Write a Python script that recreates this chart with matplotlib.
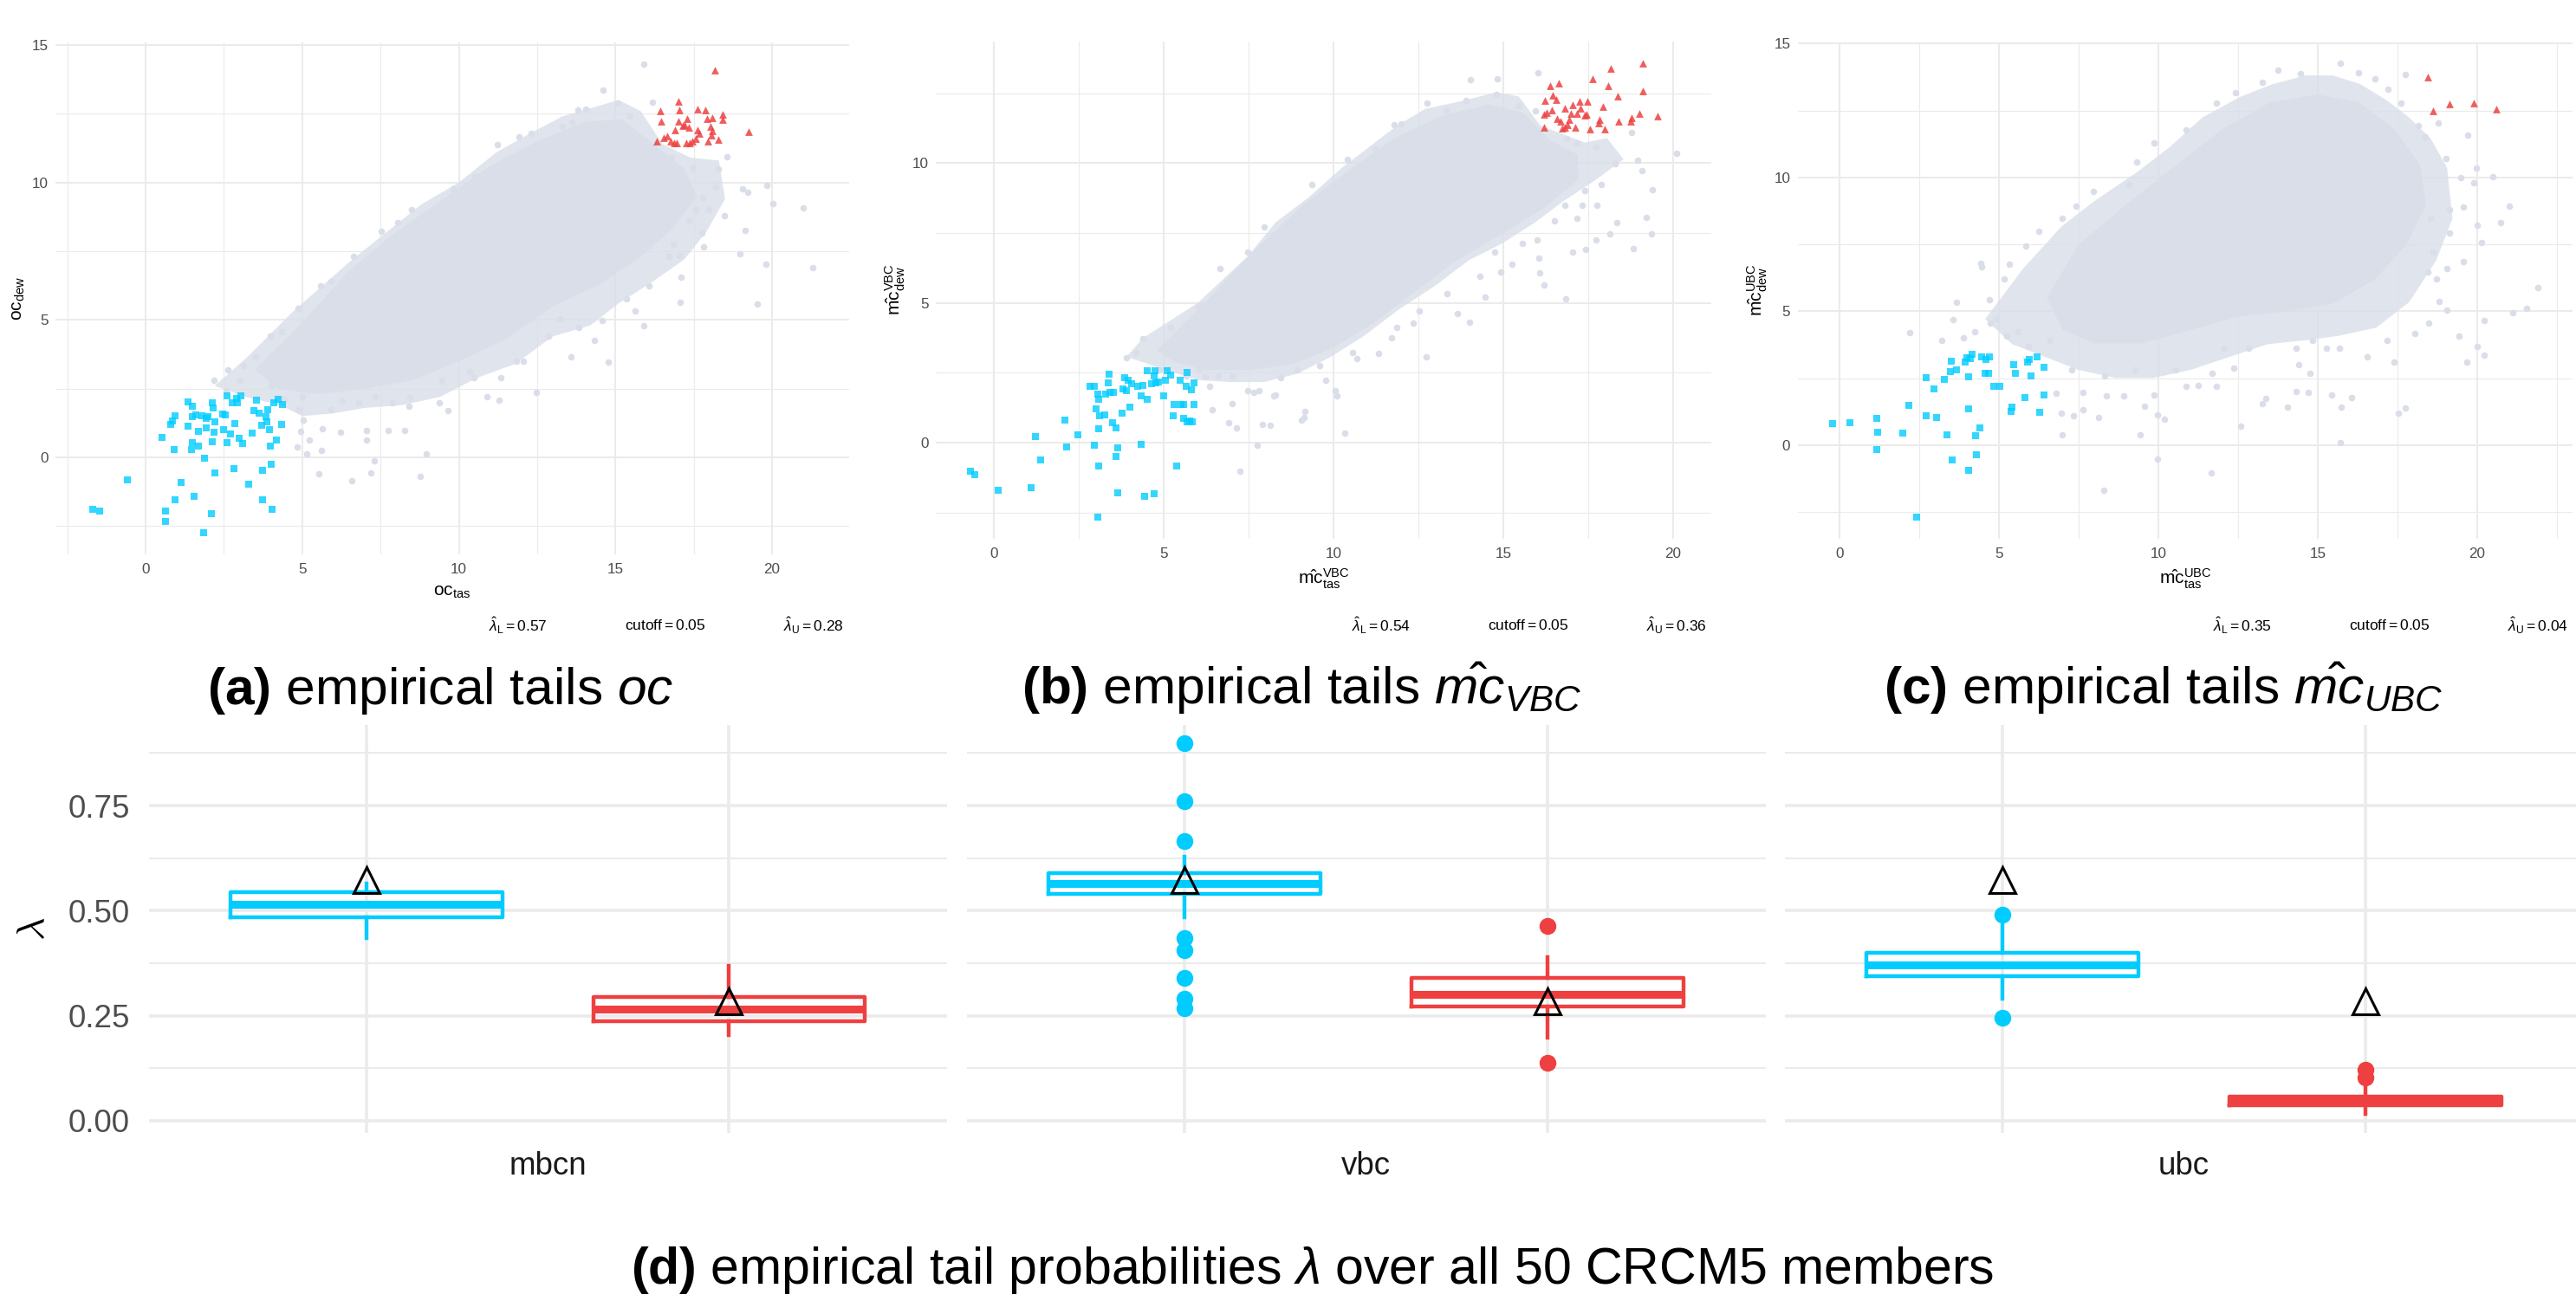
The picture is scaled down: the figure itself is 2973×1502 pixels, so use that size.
import numpy as np
import matplotlib
matplotlib.use("Agg")
import matplotlib.pyplot as plt
from matplotlib.ticker import MultipleLocator

plt.rcParams['font.family'] = ['Liberation Sans', 'DejaVu Sans']
plt.rcParams['mathtext.fontset'] = 'custom'
plt.rcParams['mathtext.rm'] = 'Liberation Sans'
plt.rcParams['mathtext.it'] = 'Liberation Sans:italic'
plt.rcParams['mathtext.bf'] = 'Liberation Sans:bold'

# ---------------- data ----------------
# (a) observed oc
a_lower = [(-1.69, -1.88), (-1.48, -1.97), (-0.58, -0.81), (0.53, 0.73), (0.62, -1.97), (0.64, -2.32),
           (0.79, 1.21), (0.86, 1.33), (0.90, 0.29), (0.95, 1.51), (0.95, -1.53), (1.13, -0.90),
           (1.36, 2.02), (1.36, 1.12), (1.45, 0.29), (1.50, 1.85), (1.50, 1.47), (1.50, 0.52),
           (1.55, -1.41), (1.61, 1.53), (1.68, 0.95), (1.69, 0.41), (1.80, 1.50), (1.84, -2.73),
           (1.89, -0.03), (1.92, 1.08), (1.94, 1.42), (1.99, 1.47), (2.10, -2.06), (2.12, 2.00),
           (2.14, 0.58), (2.15, 1.79), (2.17, 0.90), (2.21, -0.57), (2.22, 1.28), (2.47, 1.59),
           (2.49, 1.02), (2.54, 1.53), (2.59, 2.25), (2.61, 0.52), (2.72, 0.86), (2.75, 2.00),
           (2.81, -0.40), (2.84, 1.24), (2.89, 2.15), (2.93, 1.97), (2.98, 0.70), (3.05, 2.25),
           (3.09, 0.50), (3.30, -0.98), (3.39, 0.89), (3.46, 1.71), (3.53, 2.08), (3.62, 1.60),
           (3.71, 1.18), (3.72, -0.47), (3.74, -1.53), (3.83, 1.47), (3.87, 1.28), (3.90, 1.74),
           (3.94, 1.02), (3.99, 0.41), (4.02, -0.24), (4.04, -1.89), (4.08, 2.00), (4.17, 0.64),
           (4.22, 2.12), (4.34, 1.21), (4.36, 1.92)]
a_upper = [(16.33, 11.49), (16.43, 12.62), (16.45, 12.23), (16.54, 11.62), (16.66, 11.68), (16.75, 11.50),
           (16.86, 11.44), (16.91, 11.90), (16.96, 11.44), (17.00, 12.95), (17.02, 12.23), (17.05, 12.63),
           (17.16, 12.08), (17.21, 12.11), (17.25, 11.44), (17.28, 12.31), (17.33, 12.02), (17.37, 11.44),
           (17.46, 11.50), (17.56, 11.59), (17.62, 12.66), (17.62, 11.90), (17.67, 11.78), (17.86, 12.63),
           (17.92, 12.31), (17.95, 11.50), (18.02, 12.05), (18.06, 11.72), (18.08, 12.36), (18.09, 11.88),
           (18.18, 14.10), (18.29, 11.56), (18.41, 12.48), (18.43, 12.28), (19.26, 11.84)]
a_cloud_outer = [(2.2, 2.6), (3.2, 3.6), (4.7, 5.3), (6.6, 7.2), (7.7, 8.2), (8.8, 9.2), (10.0, 10.0),
                 (11.2, 11.1), (12.3, 11.8), (13.3, 12.4), (14.2, 12.7), (15.1, 13.0), (15.8, 12.6),
                 (16.5, 11.4), (17.4, 10.9), (18.3, 10.8), (18.5, 9.4), (17.9, 8.2), (17.2, 7.2),
                 (16.2, 6.4), (15.1, 5.6), (14.2, 4.8), (13.0, 4.4), (11.8, 3.4), (10.6, 2.9),
                 (9.4, 2.2), (8.2, 1.9), (7.0, 1.8), (6.0, 1.6), (5.0, 1.5), (4.3, 1.9), (3.2, 2.2)]
a_cloud_core = [(3.5, 3.2), (5.0, 4.9), (6.5, 6.8), (8.0, 8.2), (9.5, 9.4), (11.0, 10.6), (12.5, 11.5),
                (14.0, 12.2), (15.2, 12.3), (16.2, 11.4), (17.2, 10.5), (17.6, 9.5), (16.8, 8.3),
                (15.8, 7.3), (14.5, 6.3), (13.0, 5.5), (11.5, 4.3), (10.0, 3.5), (8.5, 2.8), (7.0, 2.5),
                (5.5, 2.3), (4.2, 2.5)]
a_cloud_pts = [(15.9, 14.3), (14.6, 13.35), (15.06, 12.9), (16.17, 12.92), (16.27, 10.98), (16.79, 10.9),
               (17.49, 10.52), (18.29, 10.49), (18.57, 10.95), (18.2, 9.84), (19.05, 9.76), (19.23, 9.64),
               (19.83, 9.91), (20.03, 9.22), (21.0, 9.07), (19.13, 8.26), (18.97, 7.39), (19.8, 7.04),
               (21.29, 6.89), (19.52, 5.59), (17.81, 7.65), (17.76, 8.16), (17.05, 7.35), (17.07, 5.64),
               (16.85, 7.76), (15.9, 4.8), (15.64, 5.33), (15.34, 5.77), (14.78, 3.47), (14.58, 4.99),
               (14.32, 4.26), (13.57, 3.65), (12.85, 4.41), (12.46, 2.35), (12.07, 3.5), (11.28, 2.08),
               (10.91, 2.2), (10.49, 2.89), (9.64, 1.7), (8.97, 0.14), (8.76, -0.7), (8.28, 0.98),
               (7.75, 0.98), (7.29, -0.14), (7.18, -0.58), (7.04, 0.98), (7.06, 0.63), (6.58, -0.86),
               (5.53, -0.6), (5.61, 0.24), (5.63, 1.05), (5.15, 0.14), (4.85, 0.37), (4.96, 0.96),
               (4.87, 1.74), (5.03, 1.36), (5.22, 0.63), (5.01, 2.2), (4.43, 2.12), (4.57, 2.61),
               (4.34, 2.58), (4.02, 2.63), (3.64, 3.19), (3.11, 3.35), (2.63, 3.19), (2.19, 2.81),
               (2.58, 2.43), (3.02, 2.81), (6.23, 0.9), (5.93, 1.74), (6.28, 2.05), (6.81, 1.97),
               (7.34, 2.2), (7.87, 1.97), (8.4, 1.85), (8.44, 2.17), (9.37, 2.0), (9.46, 2.81),
               (10.34, 3.12), (11.33, 2.89), (11.84, 3.5), (13.22, 5.03), (13.82, 4.72), (16.7, 7.32),
               (17.33, 8.61), (17.55, 9.0), (17.79, 9.45), (17.99, 9.0), (18.48, 8.8), (17.09, 6.55),
               (16.08, 6.25), (16.35, 9.23), (11.23, 11.36), (11.93, 11.67), (12.32, 11.78), (13.31, 12.05),
               (14.05, 12.66), (13.61, 12.2), (15.46, 12.43), (13.79, 12.63), (10.52, 10.22), (9.81, 9.76),
               (8.49, 9.0), (8.05, 8.54), (7.52, 8.23), (6.64, 7.32), (5.93, 6.4), (5.58, 6.25),
               (4.87, 5.41), (4.34, 4.57), (3.99, 4.41), (3.5, 3.65)]

# (b) VBC
b_lower = [(-0.70, -1.01), (-0.57, -1.14), (0.11, -1.70), (1.09, -1.61), (1.21, 0.21), (1.37, -0.62),
           (2.08, 0.81), (2.13, -0.15), (2.46, 0.29), (2.83, 2.03), (2.95, 2.03), (2.95, -0.08),
           (3.0, 1.22), (3.06, 1.74), (3.08, -0.83), (3.08, 0.51), (3.08, 1.56), (3.11, 0.96),
           (3.06, -2.66), (3.27, 0.99), (3.29, 1.74), (3.35, 2.14), (3.39, 2.45), (3.4, 1.79),
           (3.5, 0.72), (3.52, 1.80), (3.6, 0.54), (3.6, -0.48), (3.65, -0.18), (3.65, -1.79),
           (3.78, 1.07), (3.79, 1.92), (3.84, 2.32), (3.89, 1.86), (3.94, 2.24), (4.0, 1.28),
           (4.05, 2.11), (4.22, 2.02), (4.33, 1.67), (4.33, -0.06), (4.38, 2.05), (4.43, -1.91),
           (4.5, 2.57), (4.51, 1.56), (4.64, 2.12), (4.71, -1.83), (4.72, 2.39), (4.74, 2.57),
           (4.77, 2.14), (4.84, 2.17), (5.0, 1.67), (5.05, 2.24), (5.1, 2.57), (5.21, 2.42),
           (5.28, 0.96), (5.31, 1.38), (5.37, -0.83), (5.49, 2.24), (5.5, 1.38), (5.57, 1.37),
           (5.59, 0.86), (5.65, 2.02), (5.68, 2.51), (5.68, 0.74), (5.75, 0.77), (5.81, 1.89),
           (5.85, 0.75), (5.88, 1.37), (5.9, 2.14)]
b_upper = [(16.21, 11.29), (16.21, 11.74), (16.24, 12.24), (16.27, 11.82), (16.38, 12.77), (16.43, 11.89),
           (16.47, 12.42), (16.55, 12.27), (16.6, 11.59), (16.63, 12.87), (16.7, 11.49), (16.73, 11.26),
           (16.81, 11.29), (16.82, 11.97), (16.89, 11.37), (16.94, 11.56), (16.99, 11.79), (17.05, 12.09),
           (17.13, 11.29), (17.18, 11.79), (17.24, 12.2), (17.28, 11.97), (17.41, 11.71), (17.46, 11.74),
           (17.49, 12.2), (17.57, 11.22), (17.64, 13.02), (17.82, 11.44), (17.85, 11.56), (17.93, 12.02),
           (17.98, 11.22), (18.1, 12.77), (18.18, 13.4), (18.37, 12.39), (18.39, 11.49), (18.76, 11.49),
           (18.79, 11.64), (19.02, 11.79), (19.12, 12.6), (19.12, 13.59), (19.54, 11.7)]
b_cloud_outer = [(3.9, 3.07), (4.38, 3.74), (6.0, 5.0), (7.48, 6.68), (8.29, 7.88), (9.27, 8.78),
                 (10.24, 9.83), (11.22, 10.74), (11.87, 11.34), (12.69, 11.94), (13.83, 12.24),
                 (14.8, 12.54), (15.46, 12.39), (16.1, 11.34), (16.76, 11.04), (17.4, 10.74),
                 (18.06, 10.9), (18.55, 10.14), (17.7, 9.38), (16.76, 8.63), (15.94, 7.88), (14.97, 7.13),
                 (13.99, 6.53), (13.0, 5.62), (11.87, 4.72), (10.9, 3.82), (9.92, 3.07), (8.94, 2.47),
                 (7.96, 2.17), (6.99, 2.17), (6.0, 2.24), (5.03, 2.62)]
b_cloud_core = [(4.8, 3.3), (6.2, 5.0), (7.6, 6.8), (9.0, 8.4), (10.4, 9.7), (11.8, 10.9), (13.2, 11.7),
                (14.6, 12.1), (15.6, 11.8), (16.4, 10.8), (17.2, 10.3), (17.2, 9.4), (16.2, 8.4),
                (15.0, 7.5), (13.6, 6.5), (12.4, 5.4), (11.2, 4.3), (10.0, 3.4), (8.8, 2.8), (7.5, 2.6),
                (6.2, 2.6), (5.3, 2.9)]
b_cloud_pts = [(14.04, 12.99), (14.82, 13.02), (16.03, 13.23), (12.75, 12.15), (13.31, 11.91), (12.0, 11.41),
               (11.79, 11.37), (15.46, 12.06), (15.94, 11.86), (16.86, 10.89), (17.17, 10.74), (17.74, 10.56),
               (18.79, 11.11), (18.96, 10.11), (20.1, 10.36), (19.09, 9.74), (18.31, 9.98), (19.4, 9.05),
               (17.9, 9.23), (17.41, 9.01), (17.13, 9.61), (16.82, 8.48), (17.33, 8.48), (17.77, 8.48),
               (17.17, 8.03), (16.51, 7.95), (18.34, 7.88), (19.22, 8.06), (19.37, 7.47), (18.15, 7.47),
               (17.74, 7.25), (17.05, 6.83), (17.44, 6.9), (18.84, 6.95), (15.99, 7.25), (15.57, 7.13),
               (16.04, 6.6), (16.08, 6.08), (16.21, 5.65), (16.84, 5.14), (15.26, 6.38), (14.93, 6.11),
               (14.32, 5.95), (14.76, 6.83), (14.48, 5.22), (14.02, 4.32), (13.66, 4.63), (12.74, 3.07),
               (13.34, 5.32), (12.52, 4.72), (12.36, 4.27), (11.87, 4.12), (11.71, 3.74), (11.32, 3.19),
               (10.68, 3.01), (10.33, 0.33), (10.05, 1.86), (10.11, 1.68), (9.76, 2.24), (9.14, 0.89),
               (9.06, 0.81), (9.15, 1.11), (8.29, 1.71), (8.23, 1.67), (7.8, 1.86), (8.13, 0.62),
               (7.9, 0.66), (7.75, -0.09), (7.64, 1.79), (7.15, 0.54), (7.23, -1.02), (6.91, 0.71),
               (7.02, 1.41), (6.42, 1.19), (6.21, 2.36), (6.6, 2.39), (6.01, 2.62), (6.34, 2.02),
               (7.0, 2.39), (7.48, 1.86), (8.45, 2.32), (8.94, 2.62), (9.59, 2.77), (10.57, 3.22),
               (5.65, 2.39), (5.36, 3.07), (4.87, 2.62), (4.38, 3.73), (3.89, 3.04), (4.17, 3.22),
               (5.2, 4.12), (6.01, 4.87), (6.66, 6.23), (7.48, 6.83), (7.96, 7.73), (9.35, 9.23),
               (10.41, 10.14), (11.22, 10.51), (12.77, 11.19), (13.91, 12.24), (14.8, 12.47)]

# (c) UBC
c_lower = [(-0.22, 0.82), (0.31, 0.85), (1.16, 1.0), (1.18, 0.49), (1.16, -0.17), (1.98, 0.46),
           (2.17, 1.49), (2.41, -2.68), (2.71, 2.53), (2.71, 1.1), (2.95, 2.1), (3.04, 1.04),
           (3.28, 2.46), (3.36, 0.39), (3.47, 2.73), (3.5, 3.14), (3.53, -0.55), (3.67, 2.82),
           (3.94, 3.11), (3.99, 3.26), (4.03, 1.37), (4.04, 2.56), (4.04, -0.94), (4.09, 3.22),
           (4.15, 3.4), (4.25, 0.36), (4.28, -0.36), (4.4, 0.64), (4.44, 3.3), (4.56, 2.67),
           (4.59, 3.19), (4.66, 2.68), (4.68, 3.3), (4.83, 2.18), (5.02, 2.18), (5.36, 1.26),
           (5.41, 1.43), (5.46, 3.01), (5.51, 2.67), (5.8, 1.79), (5.89, 3.11), (5.94, 3.19),
           (6.0, 2.57), (6.18, 3.31), (6.26, 1.22), (6.4, 2.9), (6.42, 1.88)]
c_upper = [(18.46, 13.76), (18.63, 12.49), (19.13, 12.73), (19.9, 12.77), (20.61, 12.55)]
c_cloud_outer = [(4.56, 4.71), (5.75, 6.59), (6.95, 8.16), (7.97, 9.1), (9.33, 10.2), (10.36, 11.14),
                 (11.38, 12.24), (12.58, 13.02), (13.6, 13.49), (14.62, 13.81), (15.48, 13.81),
                 (16.33, 13.49), (17.18, 12.87), (17.87, 12.24), (18.55, 11.45), (19.06, 10.36),
                 (19.23, 8.47), (18.72, 6.9), (17.87, 5.34), (16.84, 4.39), (15.65, 4.08), (14.62, 3.92),
                 (13.43, 3.77), (12.24, 3.3), (11.04, 2.82), (9.85, 2.51), (8.65, 2.51), (7.46, 2.82),
                 (6.43, 3.3), (5.41, 3.77)]
c_cloud_core = [(6.5, 5.5), (7.5, 7.5), (9.0, 9.0), (10.5, 10.4), (12.0, 11.8), (13.5, 12.8), (15.0, 13.1),
                (16.3, 12.8), (17.4, 11.8), (18.2, 10.5), (18.4, 9.0), (17.8, 7.5), (16.8, 6.2),
                (15.5, 5.3), (14.0, 5.0), (12.5, 4.8), (11.0, 4.3), (9.5, 3.8), (8.0, 3.8), (7.0, 4.3)]
c_cloud_pts = [(2.2, 4.19), (3.67, 5.32), (3.56, 4.68), (4.44, 6.65), (4.42, 6.78), (4.68, 5.44),
               (5.15, 6.2), (5.32, 6.75), (5.84, 7.45), (6.23, 8.0), (6.99, 8.47), (7.42, 8.94),
               (7.97, 9.49), (9.08, 9.73), (9.33, 10.59), (9.85, 11.3), (10.87, 11.77), (11.81, 12.79),
               (12.41, 13.18), (13.26, 13.57), (13.74, 14.0), (14.45, 13.89), (15.7, 14.28), (16.28, 13.92),
               (16.81, 13.7), (17.75, 13.86), (17.2, 13.31), (17.61, 12.79), (18.16, 11.93), (18.77, 12.05),
               (18.38, 11.53), (19.04, 10.72), (19.71, 11.58), (19.49, 10.01), (19.91, 9.79), (19.98, 10.36),
               (20.49, 10.04), (21.02, 8.94), (20.73, 8.32), (20.0, 8.21), (19.57, 8.91), (19.15, 8.79),
               (18.55, 8.47), (19.15, 7.91), (20.14, 7.56), (18.63, 7.22), (19.57, 6.87), (19.06, 6.59),
               (18.72, 6.2), (18.46, 6.46), (18.81, 5.37), (19.06, 5.05), (21.91, 5.87), (21.55, 5.12),
               (21.13, 4.96), (20.22, 4.66), (19.44, 4.08), (18.48, 4.55), (18.04, 4.16), (17.18, 3.92),
               (17.39, 3.11), (19.67, 3.11), (20.0, 3.69), (20.22, 3.37), (16.55, 3.3), (15.68, 3.61),
               (15.27, 3.61), (14.83, 3.92), (14.32, 3.61), (14.4, 3.01), (14.76, 2.67), (14.32, 2.01),
               (14.06, 1.41), (14.71, 1.96), (15.44, 1.88), (15.73, 1.41), (16.07, 1.76), (15.7, 0.08),
               (17.53, 1.18), (17.75, 1.38), (13.36, 1.73), (13.26, 1.54), (12.58, 0.71), (12.83, 3.61),
               (12.37, 2.86), (12.07, 3.61), (11.81, 2.2), (11.69, 2.67), (11.67, -1.05), (11.26, 2.23),
               (10.87, 2.2), (10.53, 2.82), (10.19, 0.97), (9.98, 1.13), (9.98, -0.52), (9.85, 1.88),
               (9.56, 1.44), (9.42, 0.39), (8.92, 1.84), (8.36, 1.84), (8.28, -1.68), (8.12, 1.02),
               (7.63, 1.33), (7.34, 1.1), (7.63, 1.96), (6.98, 0.39), (6.95, 1.18), (6.79, 1.93),
               (7.29, 2.82), (8.31, 2.59), (9.25, 2.82), (6.6, 3.92), (5.92, 3.69), (5.58, 4.24),
               (5.24, 4.08), (4.9, 4.71), (4.73, 4.55), (4.22, 4.24), (3.87, 4.0), (3.19, 3.92)]

lam_L = [0.57, 0.54, 0.35]
lam_U = [0.28, 0.36, 0.04]
cutoff = 0.05

# (d) box statistics over the 50 members: (q1, median, q3, whisker low, whisker high, outliers)
methods = ["mbcn", "vbc", "ubc"]
box_lower = [(0.484, 0.515, 0.544, 0.435, 0.565, []),
             (0.540, 0.565, 0.589, 0.485, 0.628, [0.899, 0.761, 0.666, 0.434, 0.405, 0.341, 0.291, 0.267]),
             (0.345, 0.370, 0.399, 0.291, 0.466, [0.491, 0.245])]
box_upper = [(0.236, 0.265, 0.295, 0.203, 0.368, []),
             (0.273, 0.301, 0.340, 0.197, 0.390, [0.463, 0.138]),
             (0.038, 0.052, 0.058, 0.016, 0.083, [0.122, 0.102])]
obs_lambda = [0.574, 0.284]

# ---------------- drawing ----------------
W, H = 2973, 1502
fig = plt.figure(figsize=(W / 100, H / 100), dpi=100)

GRAY = '#D9DEE8'
BLUE = '#00CCFF'
RED = '#EE4040'
GRID = '#EBEBEB'


def px_axes(x0, y0, x1, y1):
    return fig.add_axes([x0 / W, 1 - y1 / H, (x1 - x0) / W, (y1 - y0) / H])


def tail_panel(ax, outer, core, pts, low, up, xlim, ylim, xlab, ylab, xpad):
    o = np.array(outer)
    c = np.array(core)
    p = np.array(pts)
    lo = np.array(low)
    hi = np.array(up)
    ax.fill(o[:, 0], o[:, 1], color=GRAY, alpha=0.8, lw=0, zorder=2)
    ax.fill(c[:, 0], c[:, 1], color=GRAY, lw=0, zorder=2)
    ax.scatter(p[:, 0], p[:, 1], s=30, color=GRAY, lw=0, zorder=3)
    ax.scatter(lo[:, 0], lo[:, 1], s=30, marker='s', color=BLUE, alpha=0.8, lw=0, zorder=4)
    ax.scatter(hi[:, 0], hi[:, 1], s=40, marker='^', color=RED, alpha=0.85, lw=0, zorder=4)
    ax.set_xlim(xlim)
    ax.set_ylim(ylim)
    ax.xaxis.set_major_locator(MultipleLocator(5))
    ax.yaxis.set_major_locator(MultipleLocator(5))
    ax.xaxis.set_minor_locator(MultipleLocator(2.5))
    ax.yaxis.set_minor_locator(MultipleLocator(2.5))
    ax.grid(which='major', color=GRID, lw=1.5, zorder=0)
    ax.grid(which='minor', color=GRID, lw=0.8, zorder=0)
    ax.set_axisbelow(True)
    for s in ax.spines.values():
        s.set_visible(False)
    ax.tick_params(which='both', length=0, labelsize=12.3, labelcolor='#4D4D4D')
    ax.tick_params(axis='x', pad=7)
    ax.tick_params(axis='y', pad=6)
    ax.set_xlabel(xlab, fontsize=15, labelpad=xpad)
    ax.set_ylabel(ylab, fontsize=15, labelpad=4)


axA = px_axes(64, 48.5, 980, 640)
tail_panel(axA, a_cloud_outer, a_cloud_core, a_cloud_pts, a_lower, a_upper,
           (-2.88, 22.46), (-3.53, 15.11),
           r'$\mathrm{oc}_{\mathrm{tas}}$', r'$\mathrm{oc}_{\mathrm{dew}}$', 7)
axB = px_axes(1080, 47.5, 1974.5, 622)
tail_panel(axB, b_cloud_outer, b_cloud_core, b_cloud_pts, b_lower, b_upper,
           (-1.72, 21.12), (-3.44, 14.37),
           r'$\hat{\mathrm{mc}}_{\mathrm{tas}}^{\mathrm{VBC}}$', r'$\hat{\mathrm{mc}}_{\mathrm{dew}}^{\mathrm{VBC}}$', 6)
axC = px_axes(2074.6, 48.5, 2969, 622)
tail_panel(axC, c_cloud_outer, c_cloud_core, c_cloud_pts, c_lower, c_upper,
           (-1.33, 23.0), (-3.50, 15.06),
           r'$\hat{\mathrm{mc}}_{\mathrm{tas}}^{\mathrm{UBC}}$', r'$\hat{\mathrm{mc}}_{\mathrm{dew}}^{\mathrm{UBC}}$', 6)

# lambda annotations under each scatter
for off, lL, lU in zip([0, 996, 1990], lam_L, lam_U):
    y = 1 - 722 / H
    fig.text((598 + off) / W, y, r'$\hat{\lambda}_{\mathrm{L}} = %.2f$' % lL, ha='center', va='center', fontsize=12.5)
    fig.text((768 + off) / W, y, r'$\mathrm{cutoff} = %.2f$' % cutoff, ha='center', va='center', fontsize=12.5)
    fig.text((939 + off) / W, y, r'$\hat{\lambda}_{\mathrm{U}} = %.2f$' % lU, ha='center', va='center', fontsize=12.5)

# captions
cap_y = 1 - 813 / H
fig.text(508 / W, cap_y, r'$\mathbf{(a)}$ empirical tails $oc$', ha='center', va='baseline', fontsize=43.5)
fig.text(1502 / W, cap_y, r'$\mathbf{(b)}$ empirical tails $\hat{mc}_{VBC}$', ha='center', va='baseline', fontsize=43.5)
fig.text(2497 / W, cap_y, r'$\mathbf{(c)}$ empirical tails $\hat{mc}_{UBC}$', ha='center', va='baseline', fontsize=43.5)
fig.text(1515 / W, 1 - 1482 / H, r'$\mathbf{(d)}$ empirical tail probabilities $\lambda$ over all 50 CRCM5 members',
         ha='center', va='baseline', fontsize=42.5)

# (d) box plots, one facet per method
facet_x = [(172, 1092.5), (1116, 2037.6), (2060, 2981)]
for i, (x0, x1) in enumerate(facet_x):
    ax = px_axes(x0, 837, x1, 1308)
    for pos, st, col in [(1, box_lower[i], BLUE), (2, box_upper[i], RED)]:
        q1, med, q3, wlo, whi, fl = st
        stats = [dict(med=med, q1=q1, q3=q3, whislo=wlo, whishi=whi, fliers=fl)]
        ax.bxp(stats, positions=[pos], widths=0.75, showcaps=False, manage_ticks=False,
               boxprops=dict(color=col, lw=3.2),
               whiskerprops=dict(color=col, lw=3.2),
               medianprops=dict(color=col, lw=6.5, solid_capstyle='butt'),
               flierprops=dict(marker='o', mfc=col, mec=col, ms=13))
    ax.plot([1, 2], obs_lambda, ls='none', marker='^', ms=22, mfc='none', mec='black', mew=2.2, zorder=5)
    ax.set_xlim(0.4, 2.6)
    ax.set_ylim(-0.029, 0.942)
    ax.set_xticks([1, 2])
    ax.set_xticklabels([])
    ax.set_yticks([0, 0.25, 0.5, 0.75])
    ax.set_yticks([0.125, 0.375, 0.625, 0.875], minor=True)
    ax.grid(which='major', color=GRID, lw=2.6, zorder=0)
    ax.grid(which='minor', axis='y', color=GRID, lw=1.5, zorder=0)
    ax.set_axisbelow(True)
    for s in ax.spines.values():
        s.set_visible(False)
    ax.tick_params(which='both', length=0, labelsize=26.5, labelcolor='#4D4D4D', pad=16)
    if i == 0:
        ax.set_yticklabels(['0.00', '0.25', '0.50', '0.75'])
    else:
        ax.set_yticklabels([])
    fig.text((x0 + x1) / 2 / W, 1 - 1346 / H, methods[i], ha='center', va='center',
             fontsize=26.5, color='#1A1A1A')

fig.text(39 / W, 1 - 1072 / H, r'$\lambda$', rotation=90, ha='center', va='center',
         fontsize=33, math_fontfamily='cm')

fig.savefig('out.png', dpi=100)
